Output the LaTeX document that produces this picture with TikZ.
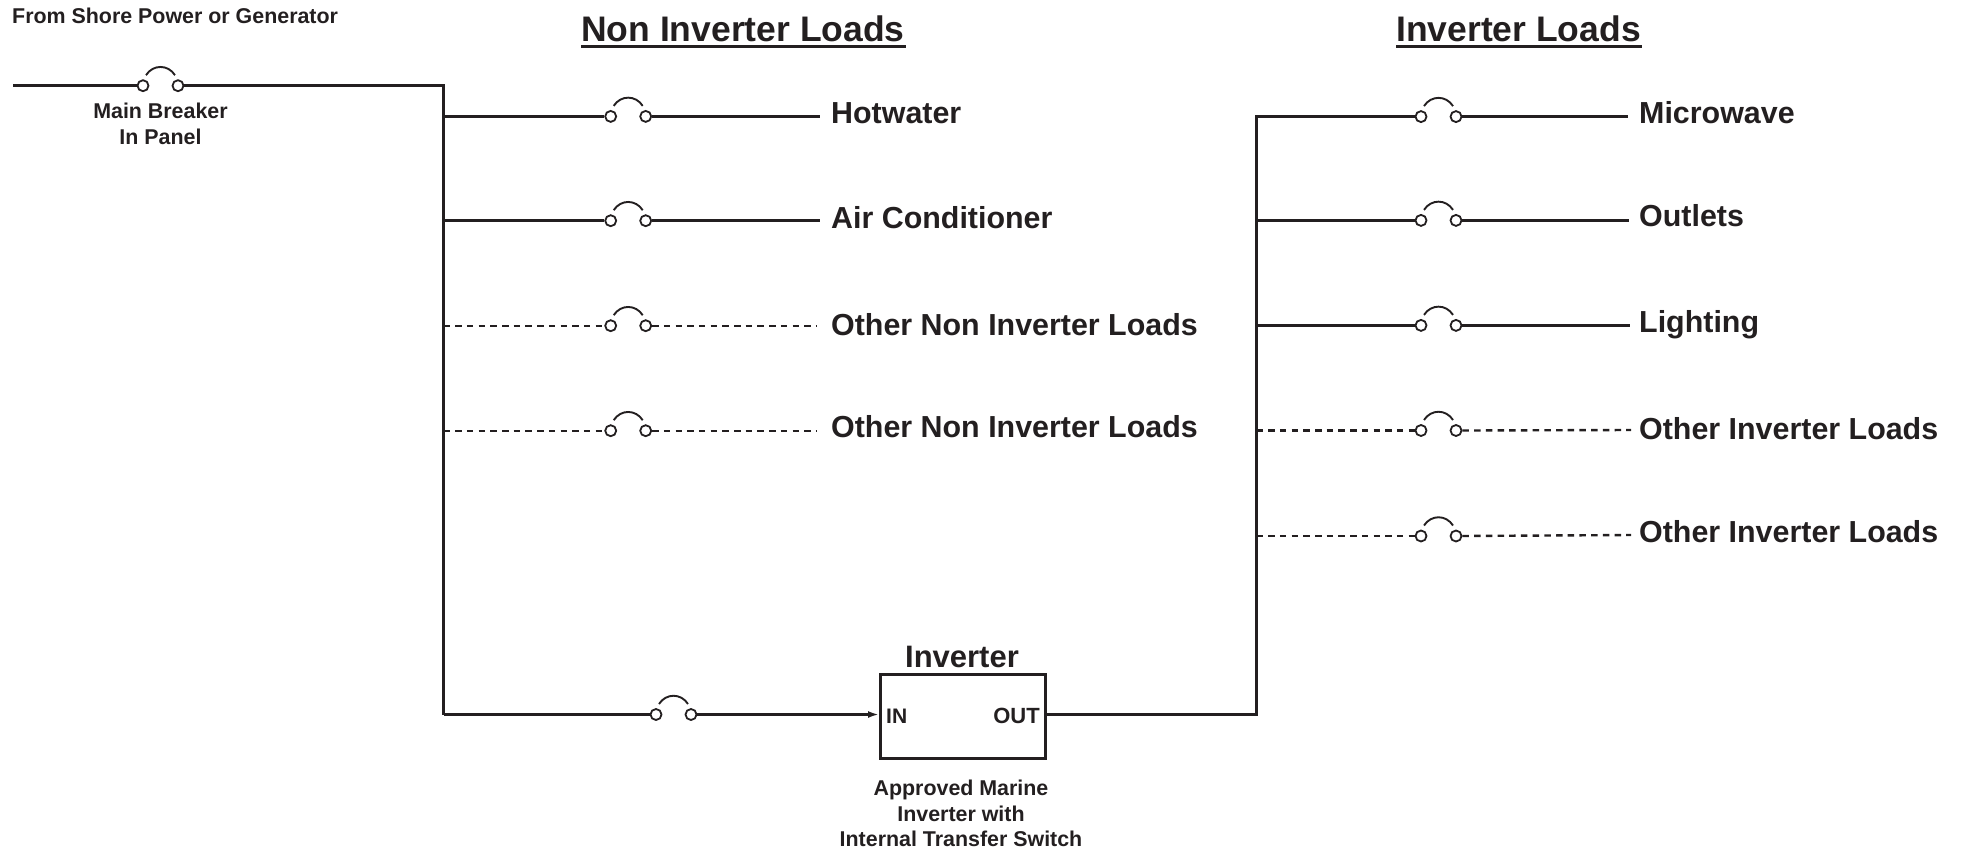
\documentclass[tikz,border=0pt]{standalone}
\usepackage{fontspec}
\setmainfont{Liberation Sans}
\usetikzlibrary{arrows.meta}
\definecolor{ink}{HTML}{231F20}
\newcommand{\fs}[1]{\fontsize{#1}{#1}\selectfont\bfseries}
\tikzset{
  contact/.style={circle,draw=ink,fill=white,line width=1.8pt,minimum size=11pt,inner sep=0pt},
  wire/.style={draw=ink,line width=3pt},
  bus/.style={draw=ink,line width=3pt,line join=miter},
  dashwire/.style={draw=ink,line width=2.4pt,dash pattern=on 6.5pt off 5.2pt},
  arcline/.style={draw=ink,line width=1.9pt},
  lbl/.style={anchor=base west,inner sep=0pt,text=ink,font=\fs{30.4}},
  small/.style={anchor=base,inner sep=0pt,text=ink,font=\fs{21.4}},
  head/.style={anchor=base,inner sep=0pt,text=ink,font=\fs{35.5}},
  box/.style={draw=ink,line width=3pt,minimum width=164.5pt,minimum height=84pt,inner sep=0pt,anchor=north west}
}
% name, left contact x, y
\newcommand{\swt}[3]{%
  \node[contact] (#1a) at (#2,#3) {};
  \node[contact] (#1b) at (#2+35,#3) {};
  \draw[arcline] (#2+3,#3-10.5) .. controls (#2+10,#3-21.5) and (#2+25,#3-21.5) .. (#2+32,#3-10.5);
}
\begin{document}
\begin{tikzpicture}[x=1pt,y=-1pt]
\useasboundingbox (0,0) rectangle (1961,851);
% texts
\node[small,anchor=base west] (src) at (12,24) {From Shore Power or Generator};
\node[small] (mb1) at (160.5,118) {Main Breaker};
\node[small] (mb2) at (160.5,144) {In Panel};
\node[head] (h1) at (743,41.7) {Non Inverter Loads};
\node[head] (h2) at (1518.5,41.7) {Inverter Loads};
\draw[ink,line width=3pt] (h1.base west)++(0,4.6) -- ++(325,0);
\draw[ink,line width=3pt] (h2.base west)++(0,4.6) -- ++(246,0);
% main breaker and buses
\swt{m}{143}{85.7}
\coordinate (start) at (13,85.7);
\coordinate (corner) at (443.5,85.7);
\coordinate (bot) at (443.5,714.5);
\draw[wire] (start) -- (ma.west);
\draw[bus] (mb.east) -- (corner) -- (bot);
% left rows
\coordinate (l1) at (443.5,116.4);
\coordinate (l2) at (443.5,220.7);
\coordinate (l3) at (443.5,325.7);
\coordinate (l4) at (443.5,430.7);
\swt{s1}{610.7}{116.4}
\swt{s2}{610.7}{220.7}
\swt{s3}{610.7}{325.7}
\swt{s4}{610.7}{430.7}
\node[lbl] (t1) at (831,123.5) {Hotwater};
\node[lbl] (t2) at (831,228) {Air Conditioner};
\node[lbl] (t3) at (831,335) {Other Non Inverter Loads};
\node[lbl] (t4) at (831,437.5) {Other Non Inverter Loads};
\coordinate (e1) at (820,116.4);
\coordinate (e2) at (820,220.7);
\coordinate (e3) at (817,325.7);
\coordinate (e4) at (817,430.7);
\draw[wire] (l1) -- (s1a.west);
\draw[wire] (s1b.east) -- (e1);
\draw[wire] (l2) -- (s2a.west);
\draw[wire] (s2b.east) -- (e2);
\draw[dashwire] (l3) -- (s3a.west);
\draw[dashwire] (s3b.east) -- (e3);
\draw[dashwire] (l4) -- (s4a.west);
\draw[dashwire] (s4b.east) -- (e4);
% inverter
\swt{v}{656}{714.5}
\node[box] (inv) at (879,672.5) {};
\node[head,font=\fs{31}] (invt) at (962,667) {Inverter};
\node[small,font=\fs{21},anchor=base west] (in) at (886,723) {IN};
\node[small,font=\fs{22},anchor=base east] (out) at (1040,723) {OUT};
\node[small] (a1) at (961,795.7) {Approved Marine};
\node[small] (a2) at (961,821) {Inverter with};
\node[small] (a3) at (961,846.7) {Internal Transfer Switch};
\draw[bus] (bot) -- (va.west);
\draw[wire,line width=2.4pt,-{Latex[length=11pt,width=7pt]}] (vb.east) -- (inv.west |- vb.east);
\coordinate (rt) at (1256.5,116.4);
\coordinate (rb) at (1256.5,714.5);
\draw[bus] (inv.east |- rb) -- (rb) -- (rt) -- (1421,116.4);
% right rows
\coordinate (r2) at (1256.5,220.4);
\coordinate (r3) at (1256.5,325.4);
\coordinate (r4) at (1256.5,430.5);
\coordinate (r5) at (1256.5,536);
\swt{q1}{1421}{116.6}
\swt{q2}{1421}{220.4}
\swt{q3}{1421}{325.4}
\swt{q4}{1421}{430.5}
\swt{q5}{1421}{536}
\node[lbl] (u1) at (1639,123) {Microwave};
\node[lbl] (u2) at (1639,226.5) {Outlets};
\node[lbl] (u3) at (1639,332) {Lighting};
\node[lbl] (u4) at (1639,439) {Other Inverter Loads};
\node[lbl] (u5) at (1639,542) {Other Inverter Loads};
\coordinate (f1) at (1628,116.6);
\coordinate (f2) at (1629,220.4);
\coordinate (f3) at (1630,325.4);
\coordinate (f4) at (1631,430);
\coordinate (f5) at (1631,535);
\draw[wire] (q1b.east) -- (f1);
\draw[wire] (r2) -- (q2a.west);
\draw[wire] (q2b.east) -- (f2);
\draw[wire] (r3) -- (q3a.west);
\draw[wire] (q3b.east) -- (f3);
\draw[dashwire] (r4) -- (q4a.west);
\draw[dashwire] (q4b.east) -- (f4);
\draw[dashwire] (r5) -- (q5a.west);
\draw[dashwire] (q5b.east) -- (f5);
\end{tikzpicture}
\end{document}
